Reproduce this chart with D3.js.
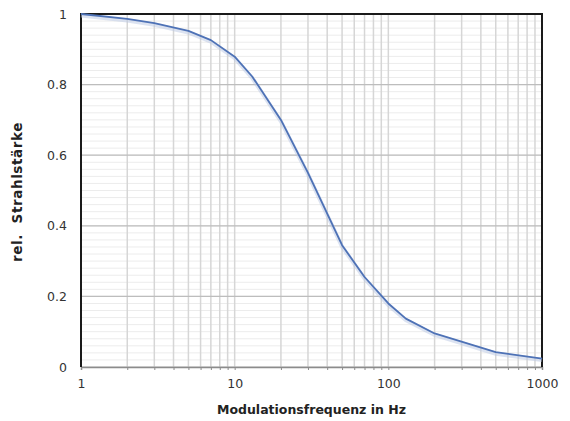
<!DOCTYPE html>
<html>
<head>
<meta charset="utf-8">
<script src="https://cdn.jsdelivr.net/npm/d3@7"></script>
<style>
  body { margin: 0; background: #fff; }
  text { font-family: "DejaVu Sans", sans-serif; }
</style>
</head>
<body>
<div id="chart"></div>
<script>
// values
const freqs = [1, 2, 3, 5, 7, 10, 13, 20, 30, 50, 70, 100, 130, 200, 500, 1000];
const intensity = [1.0, 0.986, 0.974, 0.952, 0.926, 0.879, 0.823, 0.70, 0.55, 0.345, 0.255, 0.18, 0.137, 0.095, 0.042, 0.024];
const xTicks = [1, 10, 100, 1000];
const yTicks = [0, 0.2, 0.4, 0.6, 0.8, 1];

const width = 570;
const height = 421;
const margin = {top: 14, right: 28, bottom: 54, left: 81};

const svg = d3.select("#chart")
    .append("svg")
    .attr("width", width)
    .attr("height", height);

const x = d3.scaleLog()
    .domain([1, 1000])
    .range([margin.left, width - margin.right]);

const y = d3.scaleLinear()
    .domain([0, 1])
    .range([height - margin.bottom, margin.top]);

// minor log positions 2..9 in each decade
const minorX = [];
[1, 10, 100].forEach(d => {
    for (let k = 2; k <= 9; k++) minorX.push(d * k);
});

// faint horizontal minor grid
svg.append("g")
    .selectAll("line")
    .data(d3.range(0, 1.0001, 0.02))
    .join("line")
    .attr("x1", x.range()[0])
    .attr("x2", x.range()[1])
    .attr("y1", d => y(d))
    .attr("y2", d => y(d))
    .attr("stroke", "#ececec")
    .attr("stroke-width", 1);

// vertical grid (major and minor look alike)
svg.append("g")
    .selectAll("line")
    .data(minorX.concat(xTicks))
    .join("line")
    .attr("x1", d => x(d))
    .attr("x2", d => x(d))
    .attr("y1", y.range()[0])
    .attr("y2", y.range()[1])
    .attr("stroke", "#d6d6d6")
    .attr("stroke-width", 1.5);

// horizontal major grid
svg.append("g")
    .selectAll("line")
    .data(yTicks)
    .join("line")
    .attr("x1", x.range()[0])
    .attr("x2", x.range()[1])
    .attr("y1", d => y(d))
    .attr("y2", d => y(d))
    .attr("stroke", "#bdbdbd")
    .attr("stroke-width", 1.2);

// bottom axis: gray line with small ticks
const xAxis = svg.append("g")
    .attr("transform", `translate(0, ${y(0)})`)
    .call(d3.axisBottom(x)
        .tickValues(xTicks.concat(minorX))
        .tickFormat(d => xTicks.includes(d) ? d : "")
        .tickSize(3)
        .tickPadding(9));
xAxis.select(".domain").attr("stroke", "#8c8c8c").attr("stroke-width", 1.5);
xAxis.selectAll(".tick line").attr("stroke", "#8c8c8c");
xAxis.selectAll("text")
    .attr("font-size", 12.5)
    .attr("fill", "#333")
    .style("font-family", "DejaVu Sans, sans-serif");

const yAxis = svg.append("g")
    .attr("transform", `translate(${x.range()[0]}, 0)`)
    .call(d3.axisLeft(y)
        .tickValues(yTicks)
        .tickFormat(d => d)
        .tickSize(0)
        .tickPadding(14));
yAxis.select(".domain").remove();
yAxis.selectAll("text")
    .attr("font-size", 12.5)
    .attr("fill", "#333")
    .style("font-family", "DejaVu Sans, sans-serif");

// frame: left, top, right dark
const x0 = x.range()[0], x1 = x.range()[1];
const yb = y.range()[0], yt = y.range()[1];
svg.append("path")
    .attr("d", `M${x0},${yb}V${yt}H${x1}V${yb}`)
    .attr("fill", "none")
    .attr("stroke", "#1a1a1a")
    .attr("stroke-width", 2);

// curve with a soft shadow
const line = d3.line()
    .x((d, i) => x(freqs[i]))
    .y(d => y(d));

svg.append("path")
    .datum(intensity)
    .attr("fill", "none")
    .attr("stroke", "#b9c7e4")
    .attr("stroke-width", 4)
    .attr("stroke-opacity", 0.5)
    .attr("transform", "translate(0,1.5)")
    .attr("d", line);

svg.append("path")
    .datum(intensity)
    .attr("fill", "none")
    .attr("stroke", "#4e72b6")
    .attr("stroke-width", 1.8)
    .attr("stroke-linejoin", "round")
    .attr("d", line);

// axis titles
svg.append("text")
    .attr("x", (x0 + x1) / 2)
    .attr("y", 414)
    .attr("text-anchor", "middle")
    .attr("font-size", 12.5)
    .attr("font-weight", "bold")
    .attr("fill", "#222")
    .text("Modulationsfrequenz in Hz");

svg.append("text")
    .attr("transform", `translate(22, 192) rotate(-90)`)
    .attr("text-anchor", "middle")
    .attr("font-size", 13.5)
    .attr("font-weight", "bold")
    .attr("letter-spacing", 0.6)
    .attr("fill", "#222")
    .style("white-space", "pre")
    .text("rel.  Strahlstärke");
</script>
</body>
</html>
